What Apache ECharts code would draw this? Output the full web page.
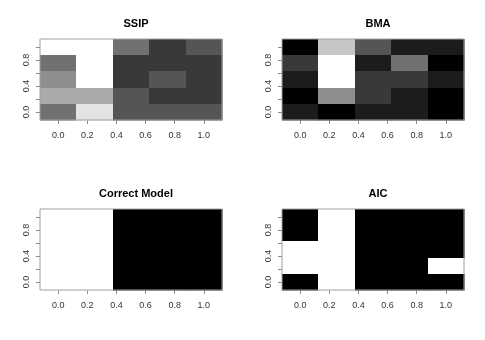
<!DOCTYPE html>
<html><head><meta charset="utf-8">
<script src="https://cdn.jsdelivr.net/npm/echarts@6/dist/echarts.min.js"></script>
<style>html,body{margin:0;padding:0;background:#fff}#c{width:485px;height:340px}</style>
</head><body><div id="c"></div>
<script>
// cell centres
var xCenters = [0, 0.25, 0.5, 0.75, 1.0];
var yCenters = [1.0, 0.75, 0.5, 0.25, 0.0]; // rows listed top to bottom
// tick layout: 0.0 .. 1.0 by 0.2; y labels only at these values
var tickMin = 0, tickMax = 1, tickStep = 0.2;
var yLabels = [0, 0.4, 0.8];
var titles = ['SSIP', 'BMA', 'Correct Model', 'AIC'];
// gray level 0 (black) .. 9 (white); rows top to bottom
var ssipValues = [
  [9, 9, 4, 2, 3],
  [4, 9, 2, 2, 2],
  [5, 9, 2, 3, 2],
  [6, 6, 3, 2, 2],
  [4, 8, 3, 3, 3]
];
var bmaValues = [
  [0, 7, 3, 1, 1],
  [2, 9, 1, 4, 0],
  [1, 9, 2, 2, 1],
  [0, 5, 2, 1, 0],
  [1, 0, 1, 1, 0]
];
var correctValues = [
  [9, 9, 0, 0, 0],
  [9, 9, 0, 0, 0],
  [9, 9, 0, 0, 0],
  [9, 9, 0, 0, 0],
  [9, 9, 0, 0, 0]
];
var aicValues = [
  [0, 9, 0, 0, 0],
  [0, 9, 0, 0, 0],
  [9, 9, 0, 0, 0],
  [9, 9, 0, 0, 9],
  [0, 9, 0, 0, 0]
];
var panels = [ssipValues, bmaValues, correctValues, aicValues];

var font = 'Liberation Sans, Arial, Helvetica, sans-serif';
var gridPos = [
  {left: 40, top: 39}, {left: 282, top: 39},
  {left: 40, top: 209}, {left: 282, top: 209}
];
var W = 182, H = 81;
var lo = -0.125, hi = 1.125, span = hi - lo;

function toData(m) {
  var d = [];
  for (var r = 0; r < m.length; r++)
    for (var c = 0; c < m[r].length; c++)
      d.push([xCenters[c], yCenters[r], m[r][c]]);
  return d;
}
function fmt(v) { return v.toFixed(1); }

var option = {
  animation: false,
  backgroundColor: '#fff',
  title: [], grid: [], xAxis: [], yAxis: [], series: [],
  visualMap: {
    show: false, type: 'continuous', min: 0, max: 9, dimension: 2, seriesIndex: [0, 1, 2, 3],
    inRange: {color: ['#000000', '#ffffff']}
  }
};
var tickColor = '#8a8a8a';
panels.forEach(function (m, i) {
  var g = gridPos[i];
  var di = 3 * i, xi = 3 * i + 1, yi = 3 * i + 2;
  option.title.push({
    text: titles[i], left: g.left + W / 2, top: g.top - 26, textAlign: 'center',
    textStyle: {fontFamily: font, fontWeight: 'bold', fontSize: 11, color: '#000'}
  });
  var padX = W * (tickMin - lo) / span, padY = H * (hi - tickMax) / span;
  var innerW = W * (tickMax - tickMin) / span, innerH = H * (tickMax - tickMin) / span;
  // data grid (cells + box)
  option.grid.push({
    left: g.left, top: g.top, width: W, height: H,
    show: true, borderColor: '#a0a0a0', borderWidth: 1, backgroundColor: 'transparent', z: 5
  });
  // x tick grid: horizontally 0..1, same vertical extent
  option.grid.push({ left: g.left + padX, top: g.top, width: innerW, height: H, show: false });
  // y tick grid: vertically 0..1, same horizontal extent
  option.grid.push({ left: g.left, top: g.top + padY, width: W, height: innerH, show: false });

  // axes for data grid
  option.xAxis.push({ type: 'value', gridIndex: di, min: lo, max: hi, show: false });
  option.yAxis.push({ type: 'value', gridIndex: di, min: lo, max: hi, show: false });
  // x tick grid axes
  option.xAxis.push({
    type: 'value', gridIndex: xi, min: tickMin, max: tickMax, interval: tickStep,
    splitLine: {show: false}, axisLine: {show: false},
    axisTick: {show: true, inside: false, length: 4, lineStyle: {color: tickColor}},
    axisLabel: {margin: 11, fontSize: 9, fontFamily: font, color: '#333', formatter: fmt,
      showMinLabel: true, showMaxLabel: true}
  });
  option.yAxis.push({ type: 'value', gridIndex: xi, min: 0, max: 1, show: false });
  // y tick grid axes
  option.xAxis.push({ type: 'value', gridIndex: yi, min: 0, max: 1, show: false });
  option.yAxis.push({
    type: 'value', gridIndex: yi, min: tickMin, max: tickMax, interval: tickStep,
    splitLine: {show: false}, axisLine: {show: false},
    axisTick: {show: true, inside: false, length: 4, lineStyle: {color: tickColor}},
    axisLabel: {rotate: 90, margin: 9, fontSize: 9, fontFamily: font, color: '#333',
      showMinLabel: true, showMaxLabel: true,
      formatter: function (v) {
        for (var k = 0; k < yLabels.length; k++) if (Math.abs(v - yLabels[k]) < 1e-9) return fmt(v);
        return '';
      }}
  });
  option.series.push({
    type: 'custom', xAxisIndex: di, yAxisIndex: di,
    data: toData(m),
    renderItem: function (params, api) {
      var x = api.value(0), y = api.value(1);
      var p1 = api.coord([x - 0.125, y + 0.125]);
      var p2 = api.coord([x + 0.125, y - 0.125]);
      var x0 = Math.round(p1[0]), y0 = Math.round(p1[1]);
      var x1 = Math.round(p2[0]), y1 = Math.round(p2[1]);
      return {
        type: 'rect',
        shape: {x: x0, y: y0, width: x1 - x0 + 0.6, height: y1 - y0 + 0.6},
        style: {fill: api.visual('color'), stroke: null}
      };
    }
  });
});
var chart = echarts.init(document.getElementById('c'), null, {renderer: 'canvas'});
chart.setOption(option);
</script></body></html>
